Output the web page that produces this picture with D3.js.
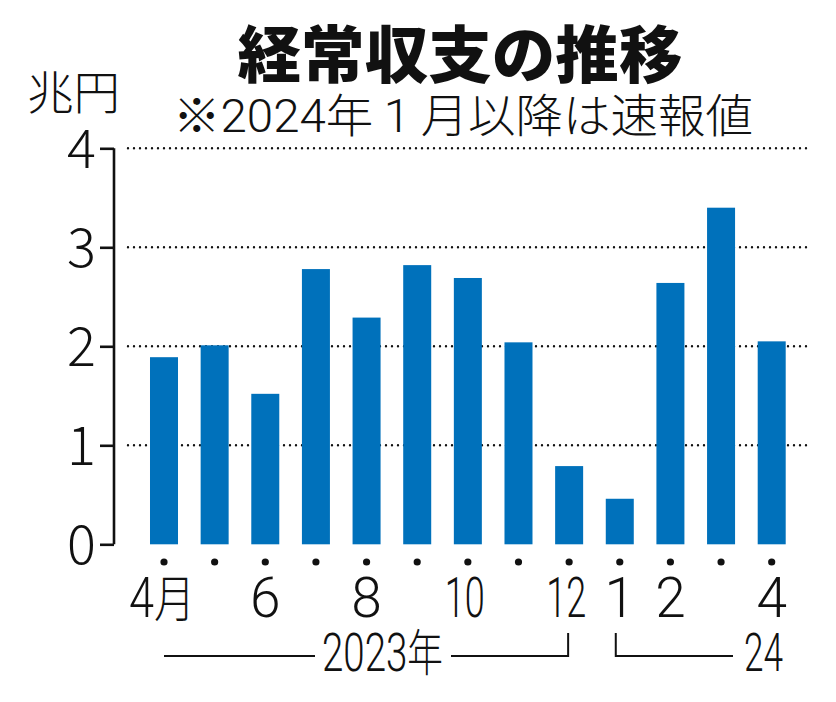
<!DOCTYPE html>
<html><head><meta charset="utf-8">
<script src="https://cdn.jsdelivr.net/npm/d3@7"></script>
<style>
html,body{margin:0;padding:0;background:#fff;}
svg{display:block;}
text{font-family:"Noto Sans CJK JP","Noto Sans",sans-serif;fill:#111;}
.num{font-family:Roboto,"Noto Sans",sans-serif;}
</style></head>
<body>
<svg id="c" width="836" height="702"></svg>
<script>
const months = ["2023-04","2023-05","2023-06","2023-07","2023-08","2023-09","2023-10","2023-11","2023-12","2024-01","2024-02","2024-03","2024-04"];
const values = [1.89, 2.01, 1.52, 2.78, 2.29, 2.82, 2.69, 2.04, 0.79, 0.46, 2.64, 3.40, 2.05];
const monthLabels = ["4","","6","","8","","10","","12","1","2","","4"];
const yTicks = [0,1,2,3,4];
const title = "経常収支の推移";
const subtitleParts = [["※",0],["2024",1],["年 ",0],["1",1],[" 月以降は速報値",0]];
const unit = "兆円";
const yearLabels = ["2023","24"];

const svg = d3.select("#c");
const x = d3.scalePoint().domain(months).range([164, 771.7]);
const y = d3.scaleLinear().domain([0,4]).range([544.3,148.3]);
const barW = x.step()*0.553;
const blue = "#0071bb";

// title
svg.append("text").attr("x",460).attr("y",78).attr("text-anchor","middle")
  .attr("font-size",62).attr("font-weight",900).attr("textLength",445).attr("lengthAdjust","spacingAndGlyphs").text(title);
const st = svg.append("text").attr("x",173).attr("y",132)
  .attr("font-size",46).attr("font-weight",300).attr("textLength",580).attr("lengthAdjust","spacingAndGlyphs");
subtitleParts.forEach(([s,isNum])=>st.append("tspan").attr("class",isNum?"num":null).text(s));
svg.append("text").attr("x",27).attr("y",109)
  .attr("font-size",46).attr("font-weight",300).attr("textLength",93).attr("lengthAdjust","spacingAndGlyphs").text(unit);

// gridlines
svg.append("g").selectAll("line").data(yTicks.filter(d=>d>0)).join("line")
  .attr("x1",128).attr("x2",808).attr("y1",d=>y(d)).attr("y2",d=>y(d))
  .attr("stroke","#111").attr("stroke-width",2.4).attr("stroke-linecap","round").attr("stroke-dasharray","0,6");

// bars
svg.append("g").selectAll("rect").data(values).join("rect")
  .attr("x",(d,i)=>x(months[i])-barW/2).attr("width",barW)
  .attr("y",d=>y(d)).attr("height",d=>y(0)-y(d)).attr("fill",blue);

// y axis
const yAxis = d3.axisLeft(y).tickValues(yTicks).tickSize(14).tickFormat(d3.format("d"));
const ga = svg.append("g").attr("transform","translate(114,0)").call(yAxis);
ga.select(".domain").attr("d",`M0,${y(4)}V${y(0)}`).attr("stroke","#111").attr("stroke-width",2.6);
ga.selectAll(".tick line").attr("stroke","#111").attr("stroke-width",2.6);
ga.selectAll(".tick text").attr("x",-18).attr("dy","0.36em").attr("font-size",54).attr("font-weight",300)
  .attr("font-family","Roboto,sans-serif").attr("fill","#111");

// dots
svg.append("g").selectAll("circle").data(months).join("circle")
  .attr("cx",d=>x(d)).attr("cy",562).attr("r",3.6).attr("fill","#111");

// month labels
const labeled = months.map((m,i)=>({m,s:monthLabels[i],i})).filter(d=>d.s!=="");
svg.append("g").selectAll("text").data(labeled).join("text")
  .attr("y",617).attr("font-size",55).attr("font-weight",300)
  .each(function(d){
    const t = d3.select(this);
    const cx = x(d.m);
    t.append("tspan").attr("class","num").text(d.s);
    if (d.i===0){
      t.append("tspan").attr("font-size",50).text("月");
      t.attr("x",cx-35).attr("textLength",66).attr("lengthAdjust","spacingAndGlyphs");
    } else if (d.s.length>1){
      t.attr("x",cx-23).attr("textLength",40).attr("lengthAdjust","spacingAndGlyphs");
    } else {
      t.attr("x",cx).attr("text-anchor","middle");
    }
  });

// year brackets
const by = 656, bt = 633;
svg.append("path").attr("d",`M${x(months[0])},${by}H315M451,${by}H${x(months[8])-1}V${bt}`)
  .attr("fill","none").attr("stroke","#111").attr("stroke-width",2);
svg.append("path").attr("d",`M${x(months[9])-4},${bt}V${by}H733`)
  .attr("fill","none").attr("stroke","#111").attr("stroke-width",2);
const yt = svg.append("text").attr("x",322).attr("y",671).attr("font-size",54).attr("font-weight",300)
  .attr("textLength",121).attr("lengthAdjust","spacingAndGlyphs");
yt.append("tspan").attr("class","num").text(yearLabels[0]);
yt.append("tspan").attr("font-size",50).text("年");
svg.append("text").attr("class","num").attr("x",744).attr("y",671).attr("font-size",54).attr("font-weight",300)
  .attr("textLength",39).attr("lengthAdjust","spacingAndGlyphs").text(yearLabels[1]);
</script>
</body></html>
